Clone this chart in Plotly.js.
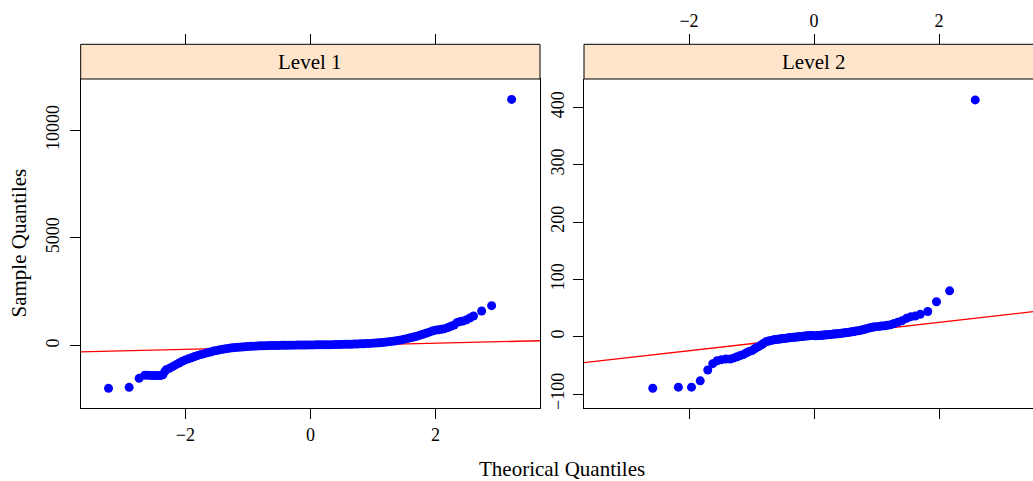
<!DOCTYPE html>
<html>
<head>
<meta charset="utf-8">
<script src="https://cdn.plot.ly/plotly-3.0.1.min.js"></script>
<style>html,body{margin:0;padding:0;background:#fff;}#chart{width:1033px;height:481px;}</style>
</head>
<body>
<div id="chart"></div>
<script>
// Panel labels
const panelLabels = ["Level 1", "Level 2"];
const axisTitleX = "Theorical Quantiles";
const axisTitleY = "Sample Quantiles";

// Level 1: theoretical quantiles (x) and sample quantiles (y)
const level1X = [-3.23,-2.90,-2.74,-2.65,-2.60,-2.55,-2.50,-2.45,-2.40,-2.36,-2.33,-2.30,-2.25,-2.20,-2.15,-2.10,-2.05,-2.00,-1.95,-1.90,-1.85,-1.80,-1.75,-1.70,-1.65,-1.60,-1.55,-1.50,-1.45,-1.40,-1.35,-1.30,-1.25,-1.20,-1.15,-1.10,-1.05,-1.00,-0.95,-0.90,-0.85,-0.80,-0.75,-0.70,-0.65,-0.60,-0.55,-0.50,-0.45,-0.40,-0.35,-0.30,-0.25,-0.20,-0.15,-0.10,-0.05,0.00,0.05,0.10,0.15,0.20,0.25,0.30,0.35,0.40,0.45,0.50,0.55,0.60,0.65,0.70,0.75,0.80,0.85,0.90,0.95,1.00,1.05,1.10,1.15,1.20,1.25,1.30,1.35,1.40,1.45,1.50,1.55,1.60,1.65,1.70,1.75,1.80,1.85,1.90,1.95,2.00,2.05,2.10,2.15,2.20,2.25,2.30,2.35,2.40,2.45,2.50,2.55,2.61,2.74,2.90,3.22];
const level1Y = [-1978,-1932,-1514,-1370,-1365,-1380,-1385,-1385,-1380,-1350,-1200,-1100,-1040,-960,-880,-800,-720,-660,-610,-560,-500,-450,-410,-370,-330,-290,-250,-220,-190,-165,-140,-120,-100,-85,-70,-58,-47,-37,-28,-20,-13,-7,-2,2,6,9,12,15,18,20,22,24,26,28,30,32,34,36,38,40,42,44,46,48,50,53,56,59,62,66,70,75,80,86,93,100,108,117,127,138,150,165,180,200,220,245,270,300,330,365,400,440,480,530,580,630,680,720,740,760,790,840,900,960,1080,1120,1150,1200,1280,1380,1611,1858,11424];

// Level 2
const level2X = [-2.58,-2.17,-1.96,-1.82,-1.70,-1.62,-1.55,-1.48,-1.41,-1.34,-1.28,-1.23,-1.18,-1.13,-1.08,-1.04,-0.99,-0.95,-0.92,-0.88,-0.84,-0.81,-0.77,-0.74,-0.71,-0.67,-0.64,-0.61,-0.58,-0.55,-0.52,-0.50,-0.47,-0.44,-0.41,-0.39,-0.36,-0.33,-0.31,-0.28,-0.25,-0.23,-0.20,-0.18,-0.15,-0.13,-0.10,-0.08,-0.05,-0.03,0.03,0.05,0.08,0.10,0.13,0.15,0.18,0.20,0.23,0.25,0.28,0.31,0.33,0.36,0.39,0.41,0.44,0.47,0.50,0.52,0.55,0.58,0.61,0.64,0.67,0.71,0.74,0.77,0.81,0.84,0.88,0.92,0.95,0.99,1.04,1.08,1.13,1.18,1.23,1.28,1.34,1.41,1.48,1.55,1.62,1.70,1.82,1.96,2.17,2.58];
const level2Y = [-90,-88,-88,-77,-58,-47,-42,-40,-39,-39,-37,-35,-33,-31,-28,-26,-24,-21,-19,-17,-14,-12,-9,-8,-7,-6,-5.5,-5,-4.5,-4,-3.5,-3,-3,-2.5,-2,-2,-1.5,-1,-1,-0.5,0,0,0.5,0.5,1,1,1.5,1.5,2,2,1.5,2,2,2.5,2.5,3,3,3.5,3.5,4,4,4.5,4.5,5,5,5.5,6,6.5,7,7,7.5,8,8.5,9,10,10.5,11,12,13,14,15,16,17,17.5,18,18.5,19,20,21,23,25,28,32,35,36,39,44,61,80,413];

// Reference lines (qqline) end points
const qqline1X = [-3.7, 3.7];
const qqline1Y = [-285, 232];
const qqline2X = [-3.7, 3.7];
const qqline2Y = [-45.6, 46.0];

// Tick values and labels
const xTicks = [-2, 0, 2];
const xTickText = ["\u22122", "0", "2"];
const y1Ticks = [0, 5000, 10000];
const y1TickText = ["0", "5000", "10000"];
const y2Ticks = [-100, 0, 100, 200, 300, 400];
const y2TickText = ["\u2212100", "0", "100", "200", "300", "400"];

const W = 1033, H = 481;
const px = v => v / W;
const py = v => 1 - v / H;

const FONT = "Liberation Serif, Times New Roman, serif";
const tickFont = {family: FONT, size: 18, color: "#000"};

const p1L = 80.7, p1R = 540, p2L = 584, p2R = 1044;
const stripTop = 44.3, plotTop = 79, plotBot = 408.3;

const traces = [
  {x: qqline1X, y: qqline1Y, xaxis: "x", yaxis: "y", mode: "lines", line: {color: "#FF0000", width: 1.3}, hoverinfo: "skip", showlegend: false},
  {x: level1X, y: level1Y, xaxis: "x", yaxis: "y", mode: "markers", marker: {color: "#0000FF", size: 9}, showlegend: false},
  {x: qqline2X, y: qqline2Y, xaxis: "x2", yaxis: "y2", mode: "lines", line: {color: "#FF0000", width: 1.3}, hoverinfo: "skip", showlegend: false},
  {x: level2X, y: level2Y, xaxis: "x2", yaxis: "y2", mode: "markers", marker: {color: "#0000FF", size: 9}, showlegend: false},
  {x: [], y: [], xaxis: "x3", yaxis: "y", mode: "markers", showlegend: false},
  {x: [], y: [], xaxis: "x4", yaxis: "y2", mode: "markers", showlegend: false}
];

const baseAx = {
  showgrid: false, zeroline: false, showline: true, linecolor: "#000", linewidth: 1,
  ticks: "outside", ticklen: 10, tickwidth: 1, tickcolor: "#000", tickfont: tickFont,
  automargin: false, fixedrange: true, tickmode: "array"
};

const layout = {
  width: W, height: H, autosize: false,
  margin: {l: 0, r: 0, t: 0, b: 0, pad: 0},
  paper_bgcolor: "#fff", plot_bgcolor: "#fff",
  font: {family: FONT, color: "#000"},
  showlegend: false,
  xaxis: Object.assign({}, baseAx, {domain: [px(p1L), px(p1R)], range: [-3.675, 3.674], anchor: "y", tickvals: xTicks, ticktext: xTickText, mirror: true}),
  yaxis: Object.assign({}, baseAx, {domain: [py(plotBot), py(plotTop)], range: [-2903, 12370], anchor: "x", tickvals: y1Ticks, ticktext: y1TickText, tickangle: -90, mirror: true, ticklabelstandoff: 4}),
  xaxis2: Object.assign({}, baseAx, {domain: [px(p2L), 1], range: [-3.68, (W - 814) / 62.5], anchor: "y2", tickvals: xTicks, ticktext: xTickText, showticklabels: false}),
  yaxis2: Object.assign({}, baseAx, {domain: [py(plotBot), py(plotTop)], range: [-124.9, 449.5], anchor: "x2", tickvals: y2Ticks, ticktext: y2TickText, tickangle: -90, ticklabelstandoff: 2}),
  xaxis3: Object.assign({}, baseAx, {overlaying: "x", anchor: "free", position: py(stripTop), side: "top", range: [-3.675, 3.674], tickvals: xTicks, ticktext: xTickText, showticklabels: false, showline: false}),
  xaxis4: Object.assign({}, baseAx, {overlaying: "x2", anchor: "free", position: py(stripTop), side: "top", range: [-3.68, (W - 814) / 62.5], tickvals: xTicks, ticktext: xTickText, showticklabels: true, showline: false}),
  shapes: [
    {type: "rect", xref: "paper", yref: "paper", x0: px(p1L), x1: px(p1R), y0: py(plotTop), y1: py(stripTop), fillcolor: "#FFE5CC", line: {color: "#000", width: 1}},
    {type: "rect", xref: "paper", yref: "paper", x0: px(p2L), x1: px(p2R), y0: py(plotTop), y1: py(stripTop), fillcolor: "#FFE5CC", line: {color: "#000", width: 1}}
  ],
  annotations: [
    {text: panelLabels[0], xref: "paper", yref: "paper", x: px((p1L + p1R) / 2), y: py((stripTop + plotTop) / 2), xanchor: "center", yanchor: "middle", showarrow: false, font: {family: FONT, size: 21, color: "#000"}},
    {text: panelLabels[1], xref: "paper", yref: "paper", x: px(814), y: py((stripTop + plotTop) / 2), xanchor: "center", yanchor: "middle", showarrow: false, font: {family: FONT, size: 21, color: "#000"}},
    {text: axisTitleX, xref: "paper", yref: "paper", x: px(562), y: py(469), xanchor: "center", yanchor: "middle", showarrow: false, font: {family: FONT, size: 21, color: "#000"}},
    {text: axisTitleY, xref: "paper", yref: "paper", x: px(19), y: py(243.5), xanchor: "center", yanchor: "middle", textangle: -90, showarrow: false, font: {family: FONT, size: 21, color: "#000"}}
  ]
};

Plotly.newPlot("chart", traces, layout, {displayModeBar: false, staticPlot: true});
</script>
</body>
</html>
